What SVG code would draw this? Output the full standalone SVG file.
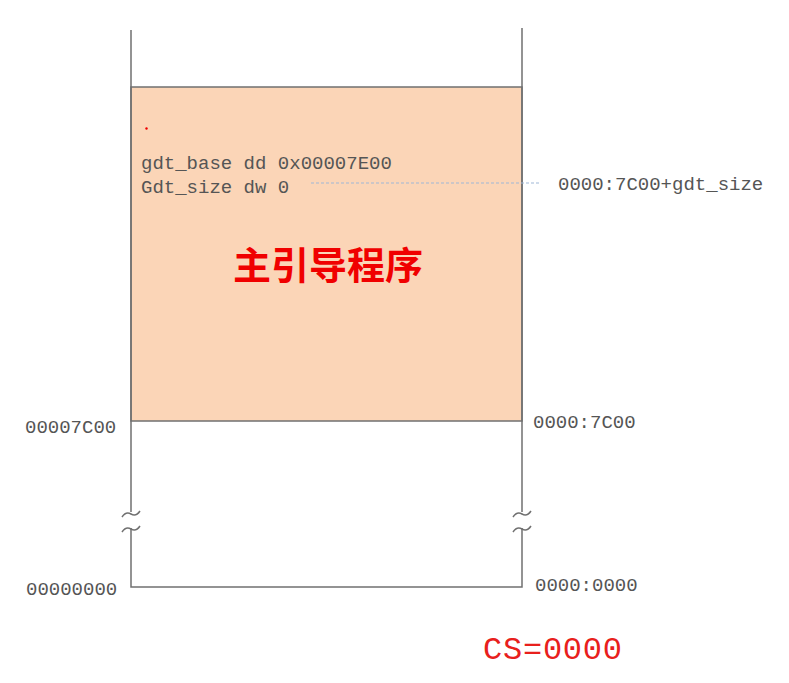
<svg xmlns="http://www.w3.org/2000/svg" width="789" height="683" viewBox="0 0 789 683">
<style>
.ln{stroke:#707070;stroke-width:1.5;fill:none}
.mono{font-family:"Liberation Mono","Courier New",monospace;font-size:19px;fill:#555}
</style>
<rect width="789" height="683" fill="#fff"/>
<g id="memory-box">
<rect x="131" y="87" width="391" height="334" fill="#fbd5b7" stroke="#707070" stroke-width="1.5"/>
<circle cx="146.5" cy="128.5" r="1.2" fill="#e00"/>
<text class="mono" x="141" y="169">gdt_base dd 0x00007E00</text>
<text class="mono" x="141" y="193">Gdt_size dw 0</text>
<text x="233" y="279" font-family="'Noto Sans CJK SC',sans-serif" font-weight="bold" font-size="38" fill="#f00000">主引导程序</text>
</g>
<g id="connectors">
<path class="ln" d="M131 30 V512 M131 528 V587 H522 V528 M522 512 V28"/>
<path class="ln" d="M122 517 q4 -6 9 -3 t9 -3 M122 532 q4 -6 9 -3 t9 -3"/>
<path class="ln" d="M513 517 q4 -6 9 -3 t9 -3 M513 532 q4 -6 9 -3 t9 -3"/>
<line x1="311" y1="183" x2="541" y2="183" stroke="#9fb7d6" stroke-width="1" stroke-dasharray="3,2"/>
</g>
<g id="labels">
<text class="mono" x="558" y="190">0000:7C00+gdt_size</text>
<text class="mono" x="25" y="433">00007C00</text>
<text class="mono" x="533" y="428">0000:7C00</text>
<text class="mono" x="26" y="595">00000000</text>
<text class="mono" x="535" y="591">0000:0000</text>
<text x="483" y="659" font-family="'Liberation Mono',monospace" font-size="32" fill="#e8201c" textLength="139">CS=0000</text>
</g>
</svg>
